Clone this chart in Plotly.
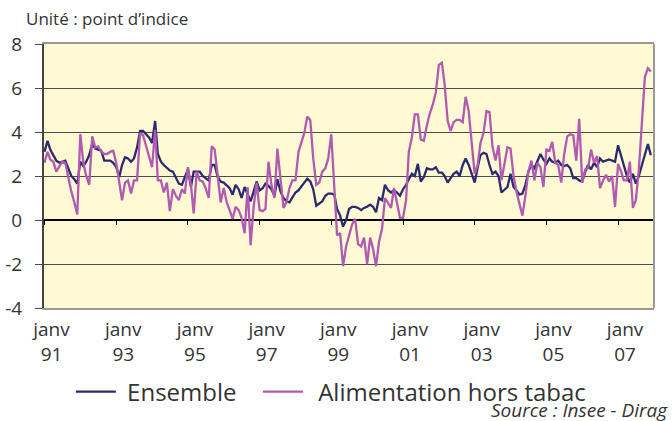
import pandas as pd
import plotly.graph_objects as go

months = pd.date_range("1991-01-01", periods=204, freq="MS")

ensemble = [
    3.1, 3.6, 3.2, 2.95, 2.7, 2.6, 2.65, 2.7, 2.35, 2.0, 1.85, 1.65,
    2.65, 2.45, 2.65, 2.95, 3.45, 3.25, 3.2, 3.15, 2.7, 2.7, 2.7, 2.6,
    2.4, 1.95, 2.5, 2.85, 2.8, 2.65, 2.8, 3.3, 4.05, 4.05, 3.9, 3.75,
    3.5, 4.5, 3.0, 2.65, 2.5, 2.35, 2.25, 2.2, 1.9, 1.65, 1.6, 1.95,
    2.3, 1.5, 2.2, 2.2, 2.2, 2.0, 1.9, 1.8, 2.5, 2.5, 1.95, 1.75,
    1.7, 1.55, 1.45, 1.15, 1.6, 1.4, 1.0, 1.5, 1.2, 0.85, 1.3, 1.75,
    1.35, 1.45, 1.65, 1.55, 1.4, 1.1, 1.85, 1.3, 1.0, 0.85, 0.8, 1.0,
    1.25, 1.35, 1.5, 1.7, 1.88, 1.75, 1.4, 0.65, 0.75, 0.85, 1.1, 1.2,
    1.2, 1.15, 0.5, 0.2, -0.3, 0.0, 0.5, 0.6, 0.6, 0.55, 0.45, 0.55,
    0.6, 0.7, 0.6, 0.35, 1.0, 0.9, 1.6, 1.35, 1.25, 1.35, 1.25, 1.1,
    1.4, 1.6, 1.85, 2.1, 2.0, 2.55, 1.75, 1.95, 2.35, 2.3, 2.3, 2.4,
    2.15, 2.15, 2.0, 1.7, 1.9, 2.1, 2.2, 2.0, 2.5, 2.8, 2.5, 2.1,
    1.7, 2.4, 2.95, 3.05, 3.0, 2.5, 2.1, 2.2, 2.0, 1.25, 1.4, 1.5,
    2.1, 1.5, 1.35, 1.15, 1.2, 1.6, 2.2, 2.5, 2.35, 2.7, 3.0, 2.75,
    2.55, 2.8, 2.65, 2.6, 2.7, 2.5, 2.45, 2.5, 2.35, 1.9, 1.9, 1.8,
    1.75, 2.2, 2.5, 2.3, 2.6, 2.4, 2.8, 2.65, 2.7, 2.75, 2.7, 2.65,
    3.4, 2.9, 2.45, 2.0, 1.7, 2.1, 1.65, 2.0, 2.5, 2.95, 3.45, 2.95,
]

alimentation = [
    2.6, 3.1, 2.75, 2.65, 2.2, 2.45, 2.65, 2.6, 1.9, 1.3, 0.8, 0.25,
    3.9, 2.6, 2.0, 1.6, 3.8, 3.3, 3.35, 3.1, 3.0, 3.0, 3.1, 3.15,
    2.6, 1.7, 0.9, 1.7, 1.8, 1.2, 1.8, 1.8, 3.95, 3.85, 3.4, 2.9,
    2.4, 4.1, 1.8, 1.8, 1.25, 1.7, 0.4, 1.4, 1.1, 0.9, 1.4, 1.2,
    2.4, 1.6, 0.3, 2.2, 1.8, 1.75, 1.45, 1.0, 3.35, 3.2, 2.0, 0.8,
    1.45, 0.8, 0.45, 0.05, 0.6, 0.45, 0.1, -0.6, 1.5, -1.15, 0.6, 1.7,
    0.45, 0.4, 0.5, 2.65, 1.6, 1.0, 3.25, 2.0, 0.55, 0.8, 1.45, 1.8,
    1.8, 3.1, 3.5, 3.95, 4.7, 4.55, 2.8, 1.6, 1.7, 2.2, 2.35, 2.8,
    3.9, 1.3, -0.7, -0.6, -2.1, -1.2, -0.75, -0.2, 0.05, -1.1, -1.2, -0.8,
    -2.0, -0.8, -1.3, -2.1, -1.0, -0.4, 1.0, 0.75, 0.55, 1.45, 0.75, 0.1,
    0.1, 0.9, 3.1, 3.75, 4.8, 4.8, 3.65, 3.6, 4.3, 4.85, 5.25, 5.8,
    7.05, 7.15, 6.15, 4.5, 4.05, 4.45, 4.55, 4.55, 4.45, 5.6, 4.95, 3.7,
    2.1, 2.5, 3.5, 3.95, 4.95, 4.9, 3.35, 2.7, 3.4, 1.8, 2.65, 3.3,
    3.25, 2.0, 1.3, 0.75, 0.2, 1.1, 2.2, 2.7, 1.8, 2.6, 2.4, 1.5,
    3.2, 3.15, 3.55, 2.6, 2.5, 1.7, 3.0, 3.8, 3.9, 3.85, 2.7, 4.6,
    1.7, 2.3, 2.35, 3.2, 2.6, 2.9, 1.45, 1.8, 2.05, 1.75, 2.0, 0.6,
    2.55, 2.2, 1.8, 1.8, 2.65, 0.55, 0.9, 2.3, 4.6, 6.5, 6.9, 6.75,
]

tick_dates = pd.date_range("1991-01-01", "2007-01-01", freq="24MS")
tick_labels = ["janv<br>91", "janv<br>93", "janv<br>95", "janv<br>97", "janv<br>99",
               "janv<br>01", "janv<br>03", "janv<br>05", "janv<br>07"]
y_ticks = [-4, -2, 0, 2, 4, 6, 8]
y_labels = ["-4", "-2", "0", "2", "4", "6", "8"]

FONT = "Open Sans"
TXT = "#333333"
NAVY = "#2B2A70"
MAG = "#B05AB2"
NB = "\u00a0"
TH = "\u2009"

W, H = 672, 421
M_T, M_L, M_R = 44, 44, 18
PLOT_BOTTOM = 308
PAPER_H = H - M_T
Y_DOMAIN_LOW = (H - PLOT_BOTTOM) / PAPER_H


def paper_y(px):
    return (H - px) / PAPER_H


x_range = [pd.Timestamp("1990-12-27"), pd.Timestamp("2008-01-02")]

fig = go.Figure()
fig.add_trace(go.Scatter(x=months, y=ensemble, mode="lines",
                         name=NB + "Ensemble" + NB * 2 + TH,
                         line=dict(color=NAVY, width=2.3)))
fig.add_trace(go.Scatter(x=months, y=alimentation, mode="lines",
                         name=NB + TH + "Alimentation hors tabac",
                         line=dict(color=MAG, width=2.3)))
fig.add_trace(go.Scatter(x=[], y=[], xaxis="x2", showlegend=False, hoverinfo="skip"))

fig.update_layout(
    template="none",
    width=W, height=H,
    margin=dict(l=M_L, r=M_R, t=M_T, b=0, pad=0),
    paper_bgcolor="white",
    plot_bgcolor="#FFF9D4",
    font=dict(family=FONT, color=TXT, size=19),
    showlegend=True,
    hovermode="closest",
    legend=dict(orientation="h", x=0.044, xanchor="left", y=paper_y(392), yanchor="middle",
                font=dict(size=24, color=TXT), bgcolor="rgba(0,0,0,0)",
                borderwidth=0, itemwidth=40),
    xaxis=dict(
        type="date", range=x_range, automargin=False,
        tickvals=tick_dates, ticktext=tick_labels,
        ticks="", showgrid=False, zeroline=False,
        showline=True, linecolor="#999999", linewidth=2, mirror=True,
        tickfont=dict(size=19, color=TXT),
        ticklabelshift=7, ticklabelstandoff=3,
    ),
    xaxis2=dict(
        type="date", range=x_range, overlaying="x", anchor="free",
        position=Y_DOMAIN_LOW + (1 - Y_DOMAIN_LOW) / 3,
        automargin=False,
        tickvals=tick_dates, showticklabels=False, ticks="outside", ticklen=4,
        tickcolor="#000000", tickwidth=1, showgrid=False, showline=False, zeroline=False,
    ),
    yaxis=dict(
        domain=[Y_DOMAIN_LOW, 1],
        range=[-4, 8], tickvals=y_ticks, ticktext=y_labels, automargin=False,
        showgrid=True, gridcolor="#4a4a4a", gridwidth=1,
        zeroline=True, zerolinecolor="#000000", zerolinewidth=1.5,
        showline=True, linecolor="#444444", linewidth=2,
        ticks="outside", ticklen=7, tickcolor="#444444",
        tickfont=dict(size=19, color=TXT), ticklabelstandoff=9,
    ),
    shapes=[
        dict(type="line", xref="paper", yref="y domain", x0=1, x1=1, y0=0, y1=1,
             line=dict(color="#999999", width=2)),
    ],
    annotations=[
        dict(text="Unité : point d’indice", xref="paper", yref="paper",
             x=-0.033, y=1.0, xanchor="left", yanchor="bottom", yshift=12,
             showarrow=False, font=dict(size=17, color=TXT)),
        dict(text="<i>Source : Insee - Dirag</i>", xref="paper", yref="paper",
             x=1.026, y=paper_y(410), xanchor="right", yanchor="middle",
             showarrow=False, font=dict(size=19, color=TXT)),
    ],
)

fig.write_html("out.html", config={"displayModeBar": False},
               post_script="document.body.style.margin='0px';")
